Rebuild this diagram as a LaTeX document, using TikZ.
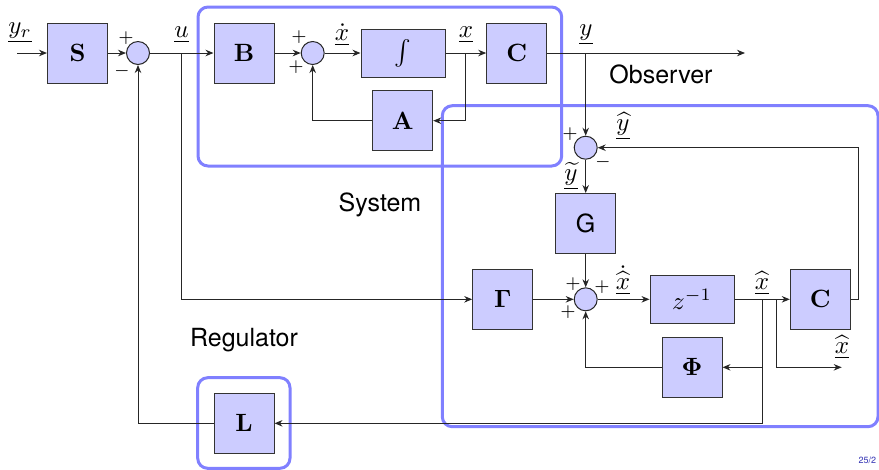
\documentclass[tikz,border=0pt]{standalone}
\usepackage[no-math]{fontspec}
\newfontfamily\sff{TeX Gyre Heros}
\usetikzlibrary{arrows.meta}
\definecolor{boxfill}{RGB}{204,204,255}
\definecolor{grpline}{RGB}{128,128,255}
\definecolor{pagecol}{RGB}{51,51,179}
\begin{document}
\begin{tikzpicture}[x=0.4pt,y=-0.4pt,
  blk/.style={draw=black!80,fill=boxfill,minimum size=24pt,inner sep=0pt,line width=0.4pt},
  wblk/.style={blk,minimum width=33.6pt,minimum height=19.2pt},
  sumc/.style={circle,draw=black!85,fill=boxfill,minimum size=9.2pt,inner sep=0pt},
  arr/.style={-{Stealth[length=3.2pt,width=2.6pt]}},
  ln/.style={draw=black!85,line width=0.4pt},
  grp/.style={draw=grpline,line width=1.2pt,rounded corners=4pt},
  sig/.style={font=\scriptsize,inner sep=0pt},
  lbl/.style={inner sep=0pt},
  txt/.style={font=\sff,inner sep=0pt}]
\useasboundingbox (0,0) rectangle (879,469);

% group frames
\draw[grp] (198,7) rectangle (561.7,166);
\draw[grp] (442.3,105.7) rectangle (878,426.7);
\draw[grp] (197.7,377.7) rectangle (290,468.3);

% blocks
\node[blk] (S) at (77.5,53) {$\mathbf{S}$};
\node[sumc] (s1) at (138,53) {};
\node[blk] (B) at (244,53) {$\mathbf{B}$};
\node[sumc] (s2) at (312.7,53) {};
\node[wblk] (I) at (403,53) {$\int$};
\node[blk] (C) at (516.7,53) {$\mathbf{C}$};
\node[blk] (A) at (402.7,120.7) {$\mathbf{A}$};
\node[sumc] (s3) at (585.7,147.7) {};
\node[blk] (G) at (585.7,223.5) {\sff G};
\node[sumc] (s4) at (585.7,299.3) {};
\node[blk] (Gm) at (502.7,299.3) {$\mathbf{\Gamma}$};
\node[wblk] (Z) at (692,299.3) {$z^{-1}$};
\node[blk] (C2) at (820.3,299.3) {$\mathbf{C}$};
\node[blk] (P) at (692,367.3) {$\mathbf{\Phi}$};
\node[blk] (L) at (244,423.3) {$\mathbf{L}$};

% coordinates
\coordinate (in) at (17,53);
\coordinate (ub) at (181.7,53);
\coordinate (xb) at (465,53);
\coordinate (yb) at (585.7,53);
\coordinate (out) at (745,53);
\coordinate (fb) at (858,299.3);
\coordinate (hb) at (762.3,299.3);
\coordinate (hb2) at (762.3,367.3);
\coordinate (hc) at (776.7,299.3);
\coordinate (hout) at (841.7,367.3);

% connectors
\draw[ln,arr] (in) -- (S);
\draw[ln,arr] (S) -- (s1);
\draw[ln,arr] (s1) -- (B);
\draw[ln,arr] (B) -- (s2);
\draw[ln,arr] (s2) -- (I);
\draw[ln,arr] (I) -- (C);
\draw[ln,arr] (xb) |- (A);
\draw[ln,arr] (A) -| (s2);
\draw[ln,arr] (C) -- (out);
\draw[ln,arr] (yb) -- (s3);
\draw[ln,arr] (s3) -- (G);
\draw[ln,arr] (G) -- (s4);
\draw[ln,arr] (ub) |- (Gm);
\draw[ln,arr] (Gm) -- (s4);
\draw[ln,arr] (s4) -- (Z);
\draw[ln,arr] (Z) -- (C2);
\draw[ln,arr] (C2) -- (fb) |- (s3);
\draw[ln,arr] (hb) |- (P);
\draw[ln,arr] (P) -| (s4);
\draw[ln,arr] (hc) |- (hout);
\draw[ln,arr] (hb2) |- (L);
\draw[ln,arr] (L) -| (s1);

% signal labels
\node[lbl] at (20,33) {$\underline{y_r}$};
\node[lbl] at (181.5,35) {$\underline{u}$};
\node[lbl] at (342,35) {$\underline{\dot{x}}$};
\node[lbl] at (466,35) {$\underline{x}$};
\node[lbl] at (586,35) {$\underline{y}$};
\node[lbl] at (623,126) {$\underline{\widehat{y}}$};
\node[lbl] at (571,176) {$\underline{\widetilde{y}}$};
\node[lbl] at (623,280) {$\underline{\dot{\widehat{x}}}$};
\node[lbl] at (762,283) {$\underline{\widehat{x}}$};
\node[lbl] at (842,347) {$\underline{\widehat{x}}$};

% signs
\node[sig] at (126,38) {$+$};
\node[sig] at (122,71) {$-$};
\node[sig] at (299,37) {$+$};
\node[sig] at (296,67) {$+$};
\node[sig] at (570,134) {$+$};
\node[sig] at (603,162) {$-$};
\node[sig] at (573,284) {$+$};
\node[sig] at (602,287) {$+$};
\node[sig] at (568,312) {$+$};

% texts
\node[txt] at (661,74) {Observer};
\node[txt] at (380,205) {System};
\node[txt] at (244,340) {Regulator};
\node[txt,anchor=west,text=pagecol,font=\sff\fontsize{3.6}{4}\selectfont] at (858,460) {25/2};
\end{tikzpicture}
\end{document}
